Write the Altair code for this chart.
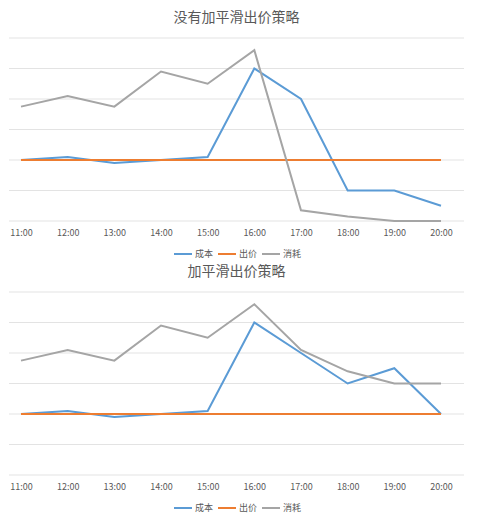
import altair as alt
import pandas as pd

hours = ["11:00", "12:00", "13:00", "14:00", "15:00", "16:00", "17:00", "18:00", "19:00", "20:00"]
series_names = ["成本", "出价", "消耗"]
grid_values = [0, 1, 2, 3, 4, 5, 6]

# 没有加平滑出价策略
cost_raw = [2.0, 2.1, 1.9, 2.0, 2.1, 5.0, 4.0, 1.0, 1.0, 0.5]
bid_raw = [2.0, 2.0, 2.0, 2.0, 2.0, 2.0, 2.0, 2.0, 2.0, 2.0]
spend_raw = [3.75, 4.1, 3.75, 4.9, 4.5, 5.6, 0.35, 0.15, 0.0, 0.0]

# 加平滑出价策略
cost_smooth = [2.0, 2.1, 1.9, 2.0, 2.1, 5.0, 4.0, 3.0, 3.5, 2.0]
bid_smooth = [2.0, 2.0, 2.0, 2.0, 2.0, 2.0, 2.0, 2.0, 2.0, 2.0]
spend_smooth = [3.75, 4.1, 3.75, 4.9, 4.5, 5.6, 4.1, 3.4, 3.0, 3.0]

colors = ["#5B9BD5", "#ED7D31", "#A5A5A5"]
FONT = "Noto Sans CJK SC"
hour_nums = [int(h.split(":")[0]) for h in hours]


def to_long(cost, bid, spend):
    rows = []
    for name, vals in zip(series_names, [cost, bid, spend]):
        for h, v in zip(hour_nums, vals):
            rows.append({"hour": h, "系列": name, "值": v})
    return pd.DataFrame(rows)


x_scale = alt.Scale(domain=[10.743, 20.493], nice=False, zero=False)
y_scale = alt.Scale(domain=[0, 6], nice=False)


def panel(df, title):
    grid = alt.Chart(pd.DataFrame({"g": grid_values})).mark_rule(
        color="#E3E3E3", strokeWidth=1
    ).encode(y=alt.Y("g:Q", scale=y_scale, axis=None))

    lines = alt.Chart(df).mark_line(strokeWidth=2).encode(
        x=alt.X("hour:Q", title=None, scale=x_scale,
                axis=alt.Axis(values=hour_nums, labelExpr="datum.value + ':00'",
                              grid=False, ticks=False, domain=False,
                              labelFontSize=9, labelColor="#595959", labelPadding=7,
                              labelFont=FONT)),
        y=alt.Y("值:Q", title=None, scale=y_scale, axis=None),
        color=alt.Color("系列:N", sort=series_names,
                        scale=alt.Scale(domain=series_names, range=colors),
                        legend=alt.Legend(orient="none", legendX=164, legendY=206,
                                          direction="horizontal",
                                          title=None, symbolType="stroke",
                                          symbolSize=324, symbolStrokeWidth=2,
                                          labelFontSize=9, labelColor="#595959",
                                          labelFont=FONT, columnPadding=0,
                                          labelOffset=2)),
        order=alt.Order("系列:N"),
    )

    return alt.layer(grid, lines).properties(
        width=455, height=183,
        title=alt.TitleParams(title, fontSize=14, color="#595959", fontWeight="normal",
                              font=FONT, anchor="middle", offset=13),
    )


top = panel(to_long(cost_raw, bid_raw, spend_raw), "没有加平滑出价策略")
bottom = panel(to_long(cost_smooth, bid_smooth, spend_smooth), "加平滑出价策略")

chart = alt.vconcat(top, bottom, spacing=5).resolve_legend(
    color="independent"
).properties(
    padding={"top": 2, "left": 0, "right": 0, "bottom": 0}
).configure_view(stroke=None)

chart.save("out.html", embed_options={"renderer": "svg", "actions": False})
